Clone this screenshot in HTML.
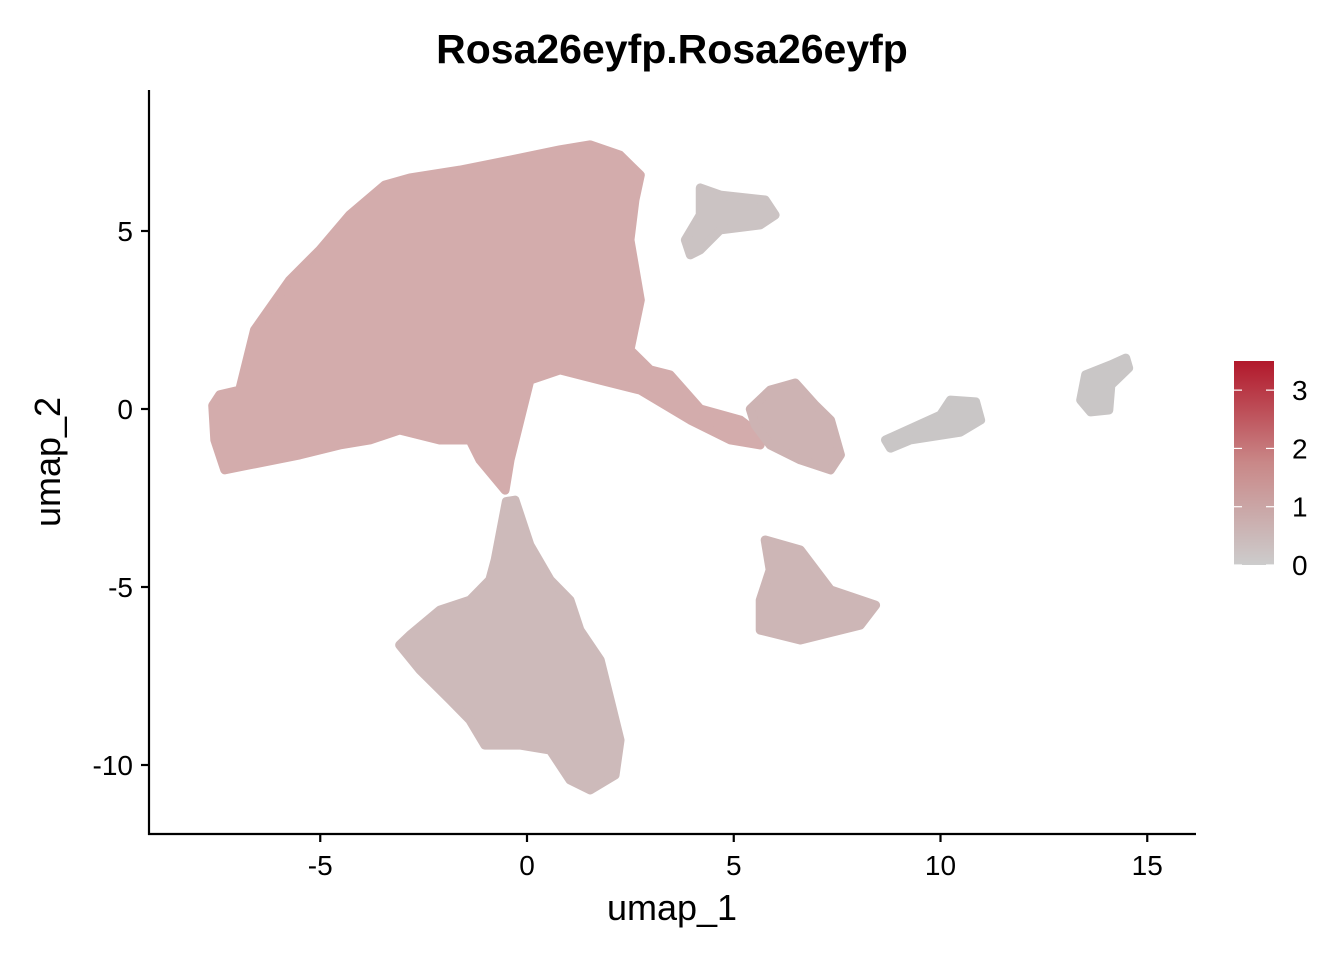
<!DOCTYPE html>
<html><head><meta charset="utf-8"><style>
body{margin:0;background:#fff;}
svg text{font-family:"Liberation Sans",Arial,sans-serif;}
</style></head><body>
<svg id="chart" width="1344" height="960" viewBox="0 0 1344 960" xmlns="http://www.w3.org/2000/svg">
<defs>
<linearGradient id="cbg" x1="0" y1="1" x2="0" y2="0">
<stop offset="0" stop-color="#cccccc"/>
<stop offset="0.5" stop-color="#c98888"/>
<stop offset="1" stop-color="#b2182b"/>
</linearGradient>
</defs>
<text x="672" y="63" text-anchor="middle" font-size="41" font-weight="bold">Rosa26eyfp.Rosa26eyfp</text>
<g id="clusters"></g>
<g id="axes"></g>
<text x="672" y="920" text-anchor="middle" font-size="36">umap_1</text>
<text transform="translate(60,462) rotate(-90)" text-anchor="middle" font-size="36">umap_2</text>
<g>
<rect x="1234" y="361" width="40" height="204" fill="url(#cbg)"/>
<g id="cbticks"></g>
</g>
</svg>
<script>
const xTicks=[-5,0,5,10,15];
const yTicks=[5,0,-5,-10];
const legendTicks=[0,1,2,3];
const legendMax=3.5;
const clusterNames=["main","bottom","mid-right","triangle","top-right","cluster-10","far-right"];
const clusterFill=["#d3acac","#cdbaba","#cdb3b3","#cdb6b6","#cbc3c3","#c9c6c6","#c9c6c6"];
const mainX=[-7.6,-7.43,-6.95,-6.59,-5.74,-5.01,-4.29,-3.44,-2.83,-1.62,-0.41,0.8,1.53,2.25,2.74,2.61,2.49,2.74,2.49,2.98,3.46,4.19,5.16,5.64,5.64,4.92,3.95,2.74,1.77,0.8,0.07,-0.17,-0.41,-0.53,-1.14,-1.38,-2.11,-3.08,-3.8,-4.53,-5.5,-6.71,-7.31,-7.55];
const mainY=[0.1,0.4,0.53,2.22,3.62,4.47,5.45,6.29,6.49,6.71,6.99,7.28,7.42,7.13,6.57,5.87,4.75,3.06,1.66,1.1,0.96,0,-0.31,-0.73,-1.01,-0.87,-0.31,0.53,0.81,1.1,0.81,-0.31,-1.43,-2.28,-1.43,-0.87,-0.87,-0.59,-0.87,-1.01,-1.29,-1.57,-1.71,-0.87];
const bottomX=[-0.77,-0.5,-0.29,0.07,0.56,1.04,1.28,1.77,2.01,2.25,2.13,1.53,1.04,0.56,-0.17,-1.02,-1.38,-1.86,-2.59,-3.08,-2.83,-2.11,-1.38,-0.9];
const bottomY=[-4.24,-2.6,-2.56,-3.82,-4.8,-5.37,-6.21,-7.05,-8.17,-9.3,-10.28,-10.7,-10.42,-9.58,-9.44,-9.44,-8.74,-8.17,-7.33,-6.63,-6.35,-5.65,-5.37,-4.8];
const midX=[5.88,6.49,6.97,7.34,7.58,7.34,6.61,5.88,5.52,5.4];
const midY=[0.53,0.73,0.11,-0.31,-1.29,-1.71,-1.43,-1.01,-0.45,0];
const triX=[5.76,6.61,7.34,8.43,8.06,6.61,5.64,5.64,5.88];
const triY=[-3.68,-3.96,-5.08,-5.51,-6.07,-6.49,-6.21,-5.37,-4.52];
const trX=[4.19,4.67,5.76,6.0,5.64,4.67,4.19,3.95,3.83,4.19];
const trY=[6.21,6.01,5.87,5.45,5.17,5.03,4.47,4.33,4.75,5.45];
const c10X=[8.67,10.0,10.24,10.85,10.97,10.48,9.27,8.79];
const c10Y=[-0.87,-0.17,0.25,0.2,-0.31,-0.65,-0.87,-1.1];
const frX=[13.51,14.12,14.48,14.55,14.12,14.07,13.63,13.39];
const frY=[0.96,1.24,1.43,1.15,0.67,-0.03,-0.08,0.25];
const clusterXs=[mainX,bottomX,midX,triX,trX,c10X,frX];
const clusterYs=[mainY,bottomY,midY,triY,trY,c10Y,frY];
const ns="http://www.w3.org/2000/svg";
const X=v=>527+v*41.35;
const Y=v=>409-v*35.6;
const cg=document.getElementById('clusters');
clusterXs.forEach((xs,i)=>{
  const p=document.createElementNS(ns,'polygon');
  
  
  p.setAttribute('points',xs.map((x,j)=>X(x)+','+Y(clusterYs[i][j])).join(' '));
  p.setAttribute('fill',clusterFill[i]);
  p.setAttribute('stroke',clusterFill[i]);
  p.setAttribute('stroke-width','9');
  p.setAttribute('stroke-linejoin','round');
  cg.appendChild(p);
});
const ag=document.getElementById('axes');
function line(x1,y1,x2,y2,name){
  const l=document.createElementNS(ns,'line');
  
  
  l.setAttribute('x1',x1);l.setAttribute('y1',y1);l.setAttribute('x2',x2);l.setAttribute('y2',y2);
  l.setAttribute('stroke','#000');l.setAttribute('stroke-width','2.2');
  ag.appendChild(l);
}
line(149,90,149,835,'y-axis-line');
line(148,834,1196,834,'x-axis-line');
function txt(x,y,s,anchor,g,size){
  const t=document.createElementNS(ns,'text');
  
  
  t.setAttribute('x',x);t.setAttribute('y',y);t.setAttribute('text-anchor',anchor);
  t.setAttribute('font-size',size);t.setAttribute('fill','#000');
  t.textContent=s;g.appendChild(t);
}
xTicks.forEach(v=>{line(X(v),834,X(v),842,'x-tick');txt(X(v),875,v,'middle',ag,28);});
yTicks.forEach(v=>{line(141,Y(v),149,Y(v),'y-tick');txt(133,Y(v)+10,v,'end',ag,28);});
const cb=document.getElementById('cbticks');
const LY=v=>565-v/legendMax*204;
legendTicks.forEach(v=>{
  [[1234,1242],[1266,1274]].forEach(a=>{
    const l=document.createElementNS(ns,'line');
    
    
    l.setAttribute('x1',a[0]);l.setAttribute('x2',a[1]);l.setAttribute('y1',LY(v));l.setAttribute('y2',LY(v));
    l.setAttribute('stroke','#fff');l.setAttribute('stroke-width','1.2');
    cb.appendChild(l);
  });
  txt(1292,LY(v)+10,v,'start',cb,28);
});
</script>
</body></html>
